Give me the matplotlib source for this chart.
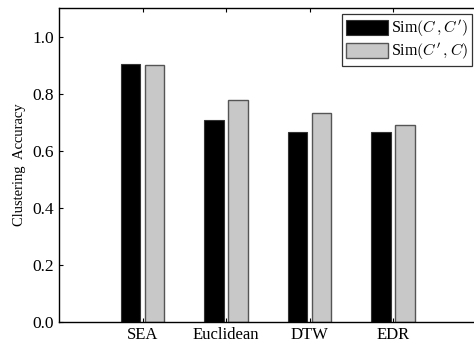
import matplotlib
matplotlib.use('Agg')
import matplotlib.pyplot as plt
import numpy as np

methods = ['SEA', 'Euclidean', 'DTW', 'EDR']
sim_c_cp = [0.904, 0.708, 0.666, 0.666]
sim_cp_c = [0.902, 0.776, 0.732, 0.689]

plt.rcParams['font.family'] = 'Liberation Serif'
plt.rcParams['mathtext.fontset'] = 'cm'

fig = plt.figure(figsize=(4.74, 3.46), dpi=100)
ax = fig.add_axes([59/474, 24/346, 417.5/474, 314/346])

x = np.arange(1, len(methods) + 1)
ax.bar(x - 0.145, sim_c_cp, width=0.235, color='black', edgecolor='#333333',
       linewidth=0.8, label=r"Sim$(C\,,C')$")
ax.bar(x + 0.145, sim_cp_c, width=0.235, color='#c8c8c8', edgecolor='#555555',
       linewidth=1.0, label=r"Sim$(C'\,,C)$")

ax.set_xlim(0, 5)
ax.set_ylim(0, 1.1)
ax.set_xticks(x)
ax.set_xticklabels(methods, fontsize=12)
ax.set_yticks([0, 0.2, 0.4, 0.6, 0.8, 1.0])
ax.set_yticklabels(['0.0', '0.2', '0.4', '0.6', '0.8', '1.0'], fontsize=12.5)
ax.tick_params(direction='in', top=True, right=False, length=3, width=0.8)
ax.spines['right'].set_visible(False)
for s in ['left', 'bottom', 'top']:
    ax.spines[s].set_linewidth(1.0)
ax.set_ylabel('Clustering  Accuracy', fontsize=10.5, labelpad=5)

leg = ax.legend(loc='upper right', bbox_to_anchor=(413/417.5, 1 - 6/314),
                fontsize=11.5, frameon=True, fancybox=False, edgecolor='black',
                handlelength=2.6, handleheight=1.1, handletextpad=0.2,
                borderpad=0.25, labelspacing=0.1, borderaxespad=0)
leg.get_frame().set_linewidth(0.9)

fig.savefig('out.png', dpi=100)
